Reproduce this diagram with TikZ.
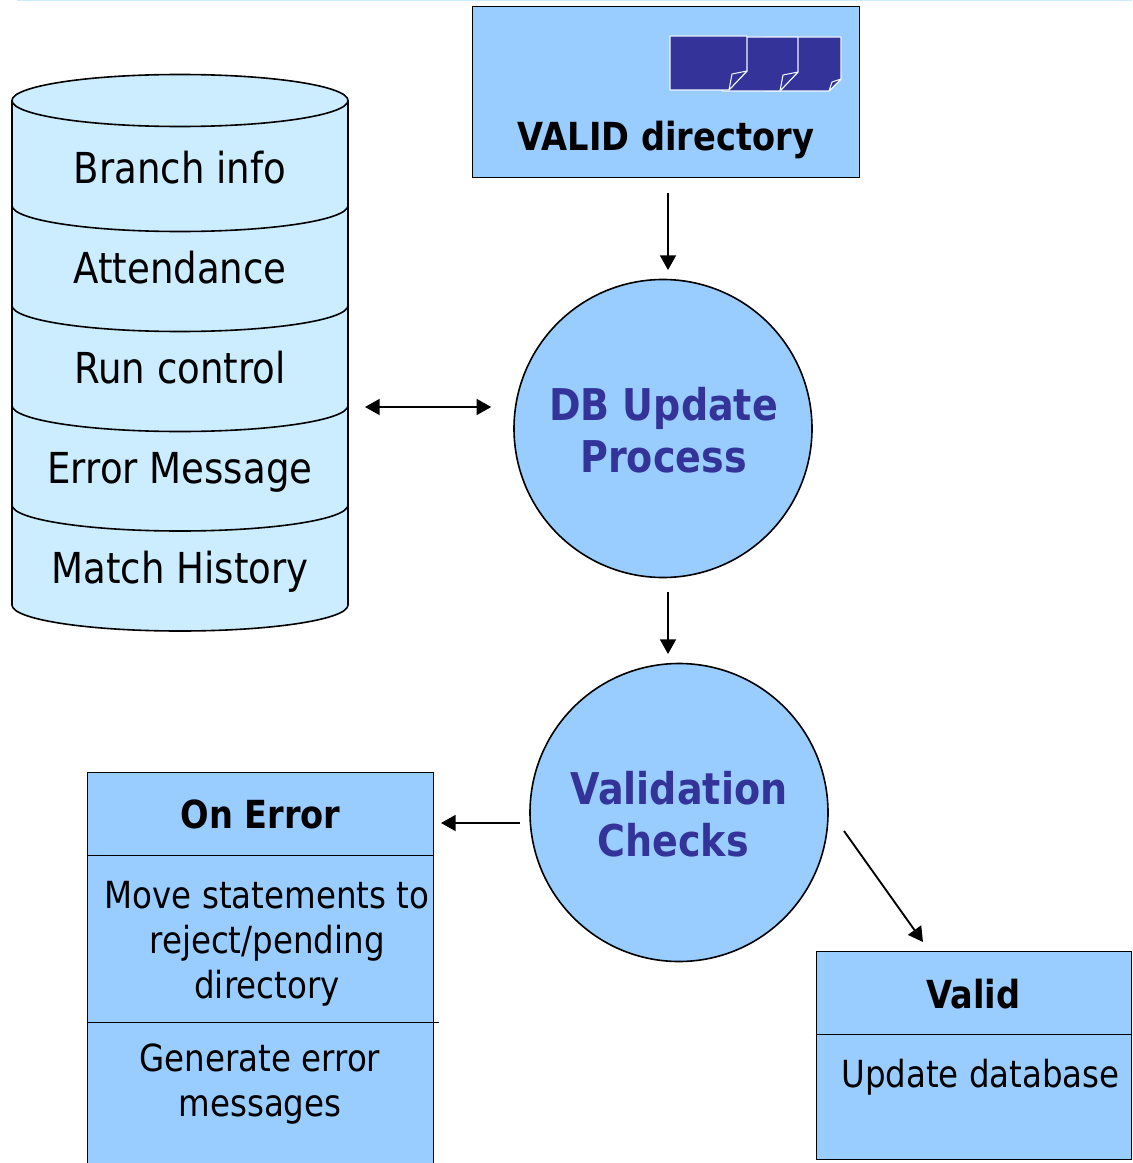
\documentclass[tikz,border=0pt]{standalone}
\usepackage{fontspec}
\setmainfont{DejaVu Sans}[FakeStretch=0.87]
\usetikzlibrary{arrows.meta,positioning,calc}
\definecolor{boxblue}{HTML}{99CCFF}
\definecolor{cylblue}{HTML}{CCECFF}
\definecolor{inkblue}{HTML}{333399}
\tikzset{
  flow/.style={-{Triangle[length=11pt,width=12pt]},line width=1.4pt},
  flowboth/.style={{Triangle[length=11pt,width=12pt]}-{Triangle[length=11pt,width=12pt]},line width=1.4pt},
  cellbox/.style={draw,fill=boxblue,line width=0.75pt},
  procnode/.style={circle,draw,fill=boxblue,line width=1.2pt,minimum size=223.5pt,inner sep=0pt},
  proclabel/.style={inner sep=0pt,align=center,text=inkblue,font=\fontsize{32.8}{39}\selectfont\bfseries},
  headlabel/.style={inner sep=0pt,font=\fontsize{29}{34}\selectfont\bfseries},
  bodylabel/.style={inner sep=0pt,align=center,font=\fontsize{28}{33.75}\selectfont},
  cyllabel/.style={inner sep=0pt,anchor=base,font=\fontsize{32}{38}\selectfont},
  pagesheet/.style={fill=inkblue,draw=white!85!boxblue,line width=0.8pt,line join=round}}
\newcommand{\docpage}[6]{% left, top, right, bottom, fold x, fold y
  \draw[pagesheet] (#1,#2) -- (#3,#2) -- (#3,#6) -- (#5,#4) -- (#1,#4) -- cycle;
  \draw[pagesheet] (#3,#6) -- ($(#5,#6)+(3,3)$) -- (#5,#4) -- cycle;}
\begin{document}
\begin{tikzpicture}[x=0.75pt,y=-0.75pt]
  \useasboundingbox (0,0) rectangle (1132,1163);
  \clip (0,0) rectangle (1132,1163);
  \draw[cylblue,line width=1.2pt] (17,0.5) -- (1132,0.5);

  % database stack
  \draw[fill=cylblue,line width=1.2pt] (12,100.5)
    arc[start angle=180,end angle=360,x radius=168,y radius=26]
    -- (348,605) arc[start angle=0,end angle=180,x radius=168,y radius=26] -- cycle;
  \foreach \y in {100.5,205.5,305.5,405.5,505}
    \draw[line width=1.2pt] (12,\y) arc[start angle=180,end angle=0,x radius=168,y radius=26];
  \node[cyllabel] (branch) at (180,183) {Branch info};
  \node[cyllabel] (attend) at (180,283) {Attendance};
  \node[cyllabel] (runctl) at (180,383) {Run control};
  \node[cyllabel] (errmsg) at (180,483) {Error Message};
  \node[cyllabel] (history) at (180,583) {Match History};
  \coordinate (dbedge) at (365,407);

  % valid directory box
  \node[cellbox,minimum width=290.25pt,minimum height=127.5pt,inner sep=0pt] (validdir) at (666,92) {};
  \docpage{765}{37}{841}{91}{829}{79}
  \docpage{722}{37}{798}{91}{780}{72}
  \docpage{670}{36}{747}{90}{729}{71}
  \node[headlabel] (validlabel) at (666,140) {VALID directory};

  % processes
  \node[procnode] (dbproc) at (663,428.5) {};
  \node[proclabel] (dblabel) at (663.5,430) {DB Update\\Process};
  \node[procnode] (checks) at (679,812.5) {};
  \node[proclabel] (checklabel) at (679,814) {Validation\\Checks\hspace*{9pt}};

  % error box
  \draw[cellbox] (87.5,772) rectangle (433,1180);
  \draw[line width=0.75pt] (87.5,855) -- (433,855);
  \draw[line width=0.75pt] (87.5,1022) -- (439,1022);
  \coordinate (errbox) at (433,823);
  \node[headlabel] (onerror) at (260.5,814.5) {On Error};
  \node[bodylabel] (movemsg) at (267,943.5) {Move statements to\\reject/pending\\directory};
  \node[bodylabel] (genmsg) at (260,1084.5) {Generate error\\messages};

  % valid box
  \node[cellbox,minimum width=236.25pt,minimum height=156pt,inner sep=0pt] (validbox) at (973.5,1055) {};
  \draw[line width=0.75pt] (validbox.west |- 0,1034) -- (validbox.east |- 0,1034);
  \node[headlabel] (validhead) at (973.5,994.5) {Valid};
  \node[bodylabel] (updatedb) at (980.5,1077) {Update database};

  % connectors
  \coordinate (dirout) at ($(validdir.south)+(2,15)$);
  \draw[flow] (dirout) -- (dirout |- 0,270);
  \coordinate (dbin) at ($(dbproc.west |- dbedge)+(-22,0)$);
  \draw[flowboth] (dbedge) -- (dbin);
  \coordinate (procout) at (668,592);
  \draw[flow] (procout) -- (668,654);
  \coordinate (checkout) at ($(checks.west |- errbox)+(-9,0)$);
  \draw[flow] (checkout) -- ($(errbox)+(8,0)$);
  \draw[flow] (844,831) -- (923,942);
\end{tikzpicture}
\end{document}
